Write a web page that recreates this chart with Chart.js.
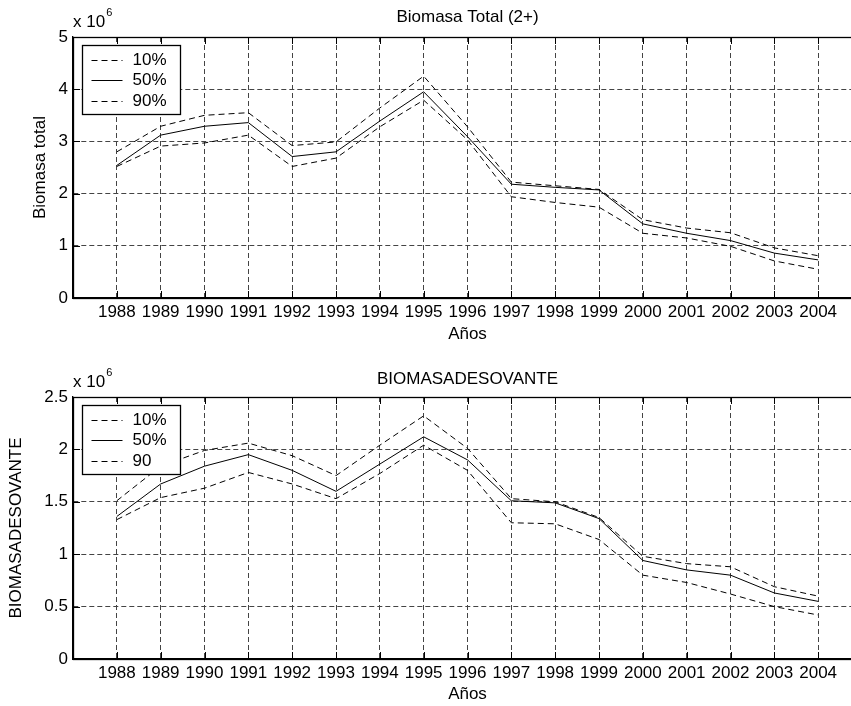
<!DOCTYPE html>
<html>
<head>
<meta charset="utf-8">
<script src="https://cdn.jsdelivr.net/npm/chart.js@4"></script>
<style>
  html, body { margin: 0; padding: 0; background: #fff; overflow: hidden; width: 851px; height: 706px; }
  .panel { position: absolute; left: 0; width: 862px; height: 353px; }
  #p1 { top: 0; }
  #p2 { top: 353px; }
</style>
</head>
<body>
<div class="panel" id="p1"><canvas id="g1" width="862" height="353"></canvas></div>
<div class="panel" id="p2"><canvas id="g2" width="862" height="353"></canvas></div>
<script>
/* ---------- Datos (en millones, x 10^6) ---------- */
const anios = [1988, 1989, 1990, 1991, 1992, 1993, 1994, 1995, 1996, 1997, 1998, 1999, 2000, 2001, 2002, 2003, 2004];

// Biomasa Total (2+)
const total10 = [2.52, 2.91, 2.97, 3.12, 2.52, 2.68, 3.28, 3.79, 3.03, 1.94, 1.83, 1.74, 1.24, 1.15, 0.99, 0.71, 0.55];
const total50 = [2.54, 3.12, 3.29, 3.36, 2.71, 2.80, 3.39, 3.95, 3.09, 2.18, 2.12, 2.07, 1.42, 1.24, 1.10, 0.86, 0.73];
const total90 = [2.80, 3.29, 3.50, 3.55, 2.92, 2.99, 3.64, 4.25, 3.28, 2.22, 2.15, 2.08, 1.50, 1.34, 1.25, 0.96, 0.81];
const etiquetasTotal = ['10%', '50%', '90%'];

// BIOMASADESOVANTE
const deso10 = [1.33, 1.54, 1.63, 1.78, 1.67, 1.53, 1.77, 2.04, 1.80, 1.30, 1.29, 1.14, 0.80, 0.73, 0.62, 0.50, 0.42];
const deso50 = [1.36, 1.67, 1.84, 1.95, 1.80, 1.60, 1.86, 2.12, 1.90, 1.51, 1.49, 1.34, 0.94, 0.85, 0.80, 0.63, 0.55];
const deso90 = [1.51, 1.84, 1.99, 2.06, 1.94, 1.75, 2.04, 2.32, 2.01, 1.53, 1.50, 1.35, 0.98, 0.91, 0.88, 0.69, 0.60];
const etiquetasDeso = ['10%', '50%', '90'];

/* ---------- Estilo ---------- */
const FUENTE = 'Arial, "Liberation Sans", Helvetica, sans-serif';
const TAM = 17;
const GUION_DATOS = [6, 4];
const GUION_GRID = [5, 3];

/* ---------- Plugin: caja, ticks internos, titulo, x10^6, leyenda ---------- */
const decoracion = {
  id: 'decoracion',
  afterDraw(chart, args, opts) {
    const ctx = chart.ctx;
    const a = chart.chartArea;
    const sx = chart.scales.x, sy = chart.scales.y;
    ctx.save();
    // ticks hacia dentro
    ctx.strokeStyle = '#000';
    ctx.lineWidth = 1;
    ctx.beginPath();
    sx.ticks.forEach(t => {
      const px = Math.round(sx.getPixelForValue(t.value)) + 0.5;
      ctx.moveTo(px, a.bottom); ctx.lineTo(px, a.bottom - 7);
      ctx.moveTo(px, a.top); ctx.lineTo(px, a.top + 7);
    });
    sy.ticks.forEach(t => {
      const py = Math.round(sy.getPixelForValue(t.value)) + 0.5;
      ctx.moveTo(a.left, py); ctx.lineTo(a.left + 7, py);
    });
    ctx.stroke();
    // caja
    ctx.lineWidth = 1.3;
    ctx.strokeRect(Math.round(a.left) + 0.5, Math.round(a.top) + 0.5, a.right - a.left, a.bottom - a.top);

    // titulo
    ctx.fillStyle = '#000';
    ctx.font = TAM + 'px ' + FUENTE;
    ctx.textAlign = 'center';
    ctx.textBaseline = 'middle';
    ctx.fillText(opts.titulo, (a.left + a.right) / 2, a.top - opts.tituloDy);

    // x 10^6
    ctx.textAlign = 'left';
    ctx.fillText('x 10', a.left, a.top - 15);
    const w = ctx.measureText('x 10').width;
    ctx.font = '11px ' + FUENTE;
    ctx.fillText('6', a.left + w + 1, a.top - 24);

    // leyenda
    const bx = a.left + 9.5, by = Math.round(a.top + 8) + 0.5, bw = 98, bh = 69;
    ctx.fillStyle = '#fff';
    ctx.fillRect(bx, by, bw, bh);
    ctx.lineWidth = 1.3;
    ctx.strokeStyle = '#000';
    ctx.strokeRect(bx, by, bw, bh);
    ctx.font = TAM + 'px ' + FUENTE;
    ctx.fillStyle = '#000';
    chart.data.datasets.forEach((ds, i) => {
      const ry = Math.round(by + 14 + i * 20.5) + 0.5;
      ctx.lineWidth = 1;
      ctx.setLineDash(ds.borderDash || []);
      ctx.beginPath();
      ctx.moveTo(bx + 9, ry); ctx.lineTo(bx + 40, ry);
      ctx.stroke();
      ctx.setLineDash([]);
      ctx.fillText(ds.label, bx + 50, ry);
    });
    ctx.restore();
  }
};

function crearGrafico(idCanvas, serieBaja, serieMedia, serieAlta, etiquetas, cfg) {
  const ctx = document.getElementById(idCanvas).getContext('2d');
  const aPuntos = vals => anios.map((an, i) => ({ x: an, y: vals[i] }));
  return new Chart(ctx, {
    type: 'line',
    data: {
      datasets: [
        { label: etiquetas[0], data: aPuntos(serieBaja), borderColor: '#000', borderWidth: 1, borderDash: GUION_DATOS, pointRadius: 0, tension: 0 },
        { label: etiquetas[1], data: aPuntos(serieMedia), borderColor: '#000', borderWidth: 1, borderDash: [], pointRadius: 0, tension: 0 },
        { label: etiquetas[2], data: aPuntos(serieAlta), borderColor: '#000', borderWidth: 1, borderDash: GUION_DATOS, pointRadius: 0, tension: 0 }
      ]
    },
    plugins: [decoracion],
    options: {
      responsive: false,
      animation: false,
      events: [],
      layout: { padding: { top: cfg.arriba, left: 0, right: 0, bottom: 0 } },
      plugins: {
        legend: { display: false },
        tooltip: { enabled: false },
        decoracion: { titulo: cfg.titulo, tituloDy: cfg.tituloDy }
      },
      scales: {
        x: {
          type: 'linear',
          min: 1987,
          max: 2005,
          afterBuildTicks: s => { s.ticks = anios.map(v => ({ value: v })); },
          afterFit: s => { s.height = cfg.altoX; },
          ticks: { color: '#000', font: { family: FUENTE, size: TAM }, padding: 4, maxRotation: 0, autoSkip: false, callback: v => String(v) },
          grid: { color: '#444', lineWidth: 1, drawTicks: false },
          border: { display: true, color: '#000', width: 1.3, dash: GUION_GRID },
          title: { display: true, text: 'Años', color: '#000', font: { family: FUENTE, size: TAM }, padding: { top: 0, bottom: cfg.padAnios } }
        },
        y: {
          min: 0,
          max: cfg.maxY,
          afterFit: s => { s.width = 73; },
          ticks: { stepSize: cfg.pasoY, color: '#000', font: { family: FUENTE, size: TAM }, padding: 5, callback: v => String(+v.toFixed(2)) },
          grid: { color: '#444', lineWidth: 1, drawTicks: false },
          border: { display: true, color: '#000', width: 1.3, dash: GUION_GRID },
          title: { display: true, text: cfg.tituloY, color: '#000', font: { family: FUENTE, size: TAM }, padding: { top: cfg.padY, bottom: 0 } }
        }
      }
    }
  });
}

crearGrafico('g1', total10, total50, total90, etiquetasTotal, {
  titulo: 'Biomasa Total (2+)', tituloDy: 20, tituloY: 'Biomasa total',
  arriba: 37, altoX: 55, maxY: 5, pasoY: 1, padY: 30, padAnios: 8
});
crearGrafico('g2', deso10, deso50, deso90, etiquetasDeso, {
  titulo: 'BIOMASADESOVANTE', tituloDy: 18, tituloY: 'BIOMASADESOVANTE',
  arriba: 44, altoX: 47, maxY: 2.5, pasoY: 0.5, padY: 6, padAnios: 1
});
</script>
</body>
</html>
